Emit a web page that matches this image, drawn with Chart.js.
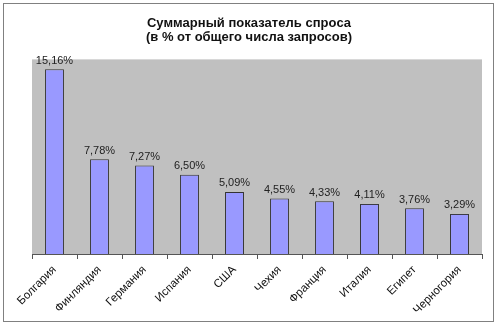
<!DOCTYPE html>
<html>
<head>
<meta charset="utf-8">
<script src="https://cdn.jsdelivr.net/npm/chart.js@4"></script>
<style>
  body { margin: 0; background: #fff; }
</style>
</head>
<body>
<canvas id="myChart" width="500" height="328"></canvas>
<script>
const countries = [
  "Болгария",
  "Финляндия",
  "Германия",
  "Испания",
  "США",
  "Чехия",
  "Франция",
  "Италия",
  "Египет",
  "Черногория",
];

// share of all requests, %
const demand = [15.16, 7.78, 7.27, 6.5, 5.09, 4.55, 4.33, 4.11, 3.76, 3.29];

const titleLines = ["Суммарный показатель спроса", "(в % от общего числа запросов)"];

const fmtPct = (v) => v.toFixed(2).replace(".", ",") + "%";

// frame around the whole chart, gray plot area and the two-line heading
const frame = {
  id: "frame",
  beforeDraw(chart) {
    const { ctx, chartArea: a } = chart;
    ctx.save();
    ctx.fillStyle = "#fff";
    ctx.fillRect(0, 0, chart.width, chart.height);
    ctx.strokeStyle = "#808080";
    ctx.lineWidth = 1;
    ctx.strokeRect(3.5, 3.5, 490, 318);
    ctx.fillStyle = "#c0c0c0";
    ctx.fillRect(a.left, a.top, a.right - a.left, a.bottom - a.top);
    ctx.strokeStyle = "#d8d8d8";
    ctx.beginPath();
    ctx.moveTo(a.left, a.top + 0.5);
    ctx.lineTo(a.right, a.top + 0.5);
    ctx.stroke();

    // heading: wide-set bold text
    ctx.font = "bold 13px 'Liberation Sans', Arial, sans-serif";
    ctx.fillStyle = "#111";
    ctx.textAlign = "center";
    ctx.textBaseline = "alphabetic";
    titleLines.forEach((line, i) => {
      ctx.letterSpacing = "0px";
      const w = ctx.measureText(line).width;
      ctx.letterSpacing = Math.max(0, (204 - w) / (line.length - 1)).toFixed(2) + "px";
      ctx.fillText(line, 249, 27 + i * 14);
    });
    ctx.letterSpacing = "0px";
    ctx.restore();
  },
};

// value labels above the bars
const valueLabels = {
  id: "valueLabels",
  afterDatasetsDraw(chart) {
    const { ctx } = chart;
    const meta = chart.getDatasetMeta(0);
    ctx.save();
    ctx.font = "11px 'Liberation Sans', Arial, sans-serif";
    ctx.fillStyle = "#222";
    ctx.textAlign = "center";
    ctx.textBaseline = "bottom";
    meta.data.forEach((bar, i) => {
      ctx.fillText(fmtPct(demand[i]), bar.x, bar.y - 3);
    });
    ctx.restore();
  },
};

const ctx = document.getElementById("myChart").getContext("2d");

const myChart = new Chart(ctx, {
  type: "bar",
  data: {
    labels: countries,
    datasets: [
      {
        data: demand,
        backgroundColor: "#9999ff",
        borderColor: "#333333",
        borderWidth: 1,
        categoryPercentage: 1,
        barPercentage: 0.42,
      },
    ],
  },
  options: {
    responsive: false,
    animation: false,
    layout: { padding: { left: 32, right: 18, top: 59, bottom: 0 } },
    plugins: {
      legend: { display: false },
      tooltip: { enabled: false },
      title: { display: false },
    },
    scales: {
      x: {
        grid: {
          display: true,
          drawOnChartArea: false,
          drawTicks: true,
          tickLength: 5,
          color: "#555",
          offset: true,
        },
        border: { color: "#555" },
        ticks: {
          color: "#111",
          font: { family: "'Liberation Sans', Arial, sans-serif", size: 11.5 },
          minRotation: 45,
          maxRotation: 45,
          padding: 4,
        },
        afterFit(scale) {
          scale.height = 74;
        },
      },
      y: {
        display: false,
        min: 0,
        max: 16,
      },
    },
  },
  plugins: [frame, valueLabels],
});
</script>
</body>
</html>
